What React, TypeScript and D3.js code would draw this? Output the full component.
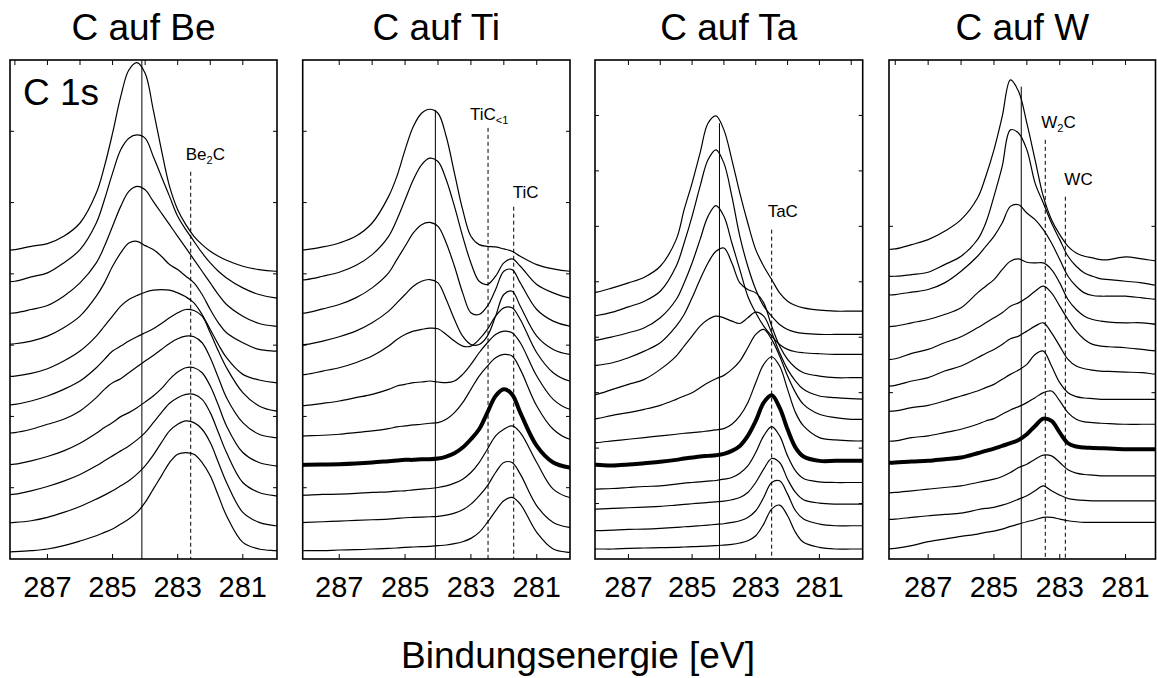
import React from 'react';
import * as d3 from 'd3';

// Binding energy grid (eV) on which every spectrum was read
const energyGrid = [288.5, 288, 287.5, 287, 286.5, 286, 285.5, 285.25, 285, 284.75, 284.5, 284.25, 284, 283.75, 283.5, 283.25, 283, 282.75, 282.5, 282.25, 282, 281.75, 281.5, 281, 280.5, 280, 279.5];

const panelTitles = ['C auf Be', 'C auf Ti', 'C auf Ta', 'C auf W'];
const xTickLabels = [287, 285, 283, 281];
const axisTitle = 'Bindungsenergie [eV]';
const coreLevel = 'C 1s';

// stacked spectra (offset intensity, arb. units), top curve first
const beSpectra = [
  [928, 930, 940, 948, 970, 1010, 1100, 1180, 1280, 1390, 1470, 1492, 1460, 1350, 1230, 1120, 1050, 1005, 970, 945, 925, 910, 898, 880, 870, 865, 864],
  [833, 835, 848, 860, 890, 930, 1010, 1080, 1160, 1230, 1265, 1275, 1265, 1210, 1150, 1090, 1030, 990, 955, 920, 890, 865, 845, 815, 795, 785, 783],
  [738, 740, 750, 762, 790, 830, 890, 940, 1000, 1060, 1105, 1120, 1110, 1075, 1040, 1005, 970, 935, 900, 865, 830, 795, 765, 730, 708, 700, 698],
  [645, 647, 655, 670, 695, 730, 790, 830, 880, 920, 950, 955, 942, 930, 910, 885, 870, 850, 830, 795, 750, 710, 680, 650, 630, 625, 623],
  [548, 550, 558, 572, 595, 625, 670, 700, 730, 760, 780, 792, 802, 808, 810, 808, 800, 788, 770, 735, 690, 645, 605, 555, 538, 530, 528],
  [462, 465, 475, 490, 510, 535, 575, 600, 625, 640, 655, 668, 680, 692, 708, 725, 740, 750, 747, 730, 680, 625, 575, 500, 460, 445, 443],
  [378, 380, 390, 405, 420, 445, 485, 510, 530, 542, 560, 578, 595, 612, 630, 648, 662, 670, 668, 650, 605, 545, 485, 410, 375, 365, 363],
  [283, 285, 295, 308, 325, 348, 378, 395, 410, 428, 440, 455, 472, 490, 512, 540, 562, 575, 575, 560, 520, 462, 400, 320, 290, 280, 278],
  [193, 195, 205, 218, 234, 254, 280, 295, 310, 325, 340, 358, 380, 410, 440, 468, 485, 495, 495, 480, 440, 380, 320, 230, 200, 190, 188],
  [108, 110, 115, 125, 140, 158, 180, 192, 205, 220, 235, 255, 280, 312, 350, 385, 405, 415, 410, 390, 350, 290, 230, 140, 110, 100, 98],
  [20, 22, 25, 30, 40, 54, 70, 80, 90, 105, 120, 140, 170, 210, 250, 290, 315, 320, 315, 290, 250, 190, 130, 50, 30, 25, 23],
];

const tiSpectra = [
  [928, 930, 938, 950, 970, 1010, 1090, 1150, 1230, 1300, 1340, 1352, 1340, 1270, 1160, 1050, 970, 945, 940, 938, 932, 925, 910, 885, 872, 865, 864],
  [838, 840, 850, 862, 882, 915, 970, 1020, 1080, 1140, 1185, 1205, 1195, 1140, 1060, 970, 890, 835, 825, 850, 890, 902, 880, 825, 800, 785, 783],
  [738, 740, 752, 765, 785, 815, 860, 900, 940, 980, 1005, 1012, 1000, 950, 880, 800, 740, 735, 760, 810, 865, 870, 830, 750, 715, 700, 698],
  [643, 645, 655, 668, 685, 710, 745, 770, 795, 820, 835, 840, 830, 780, 720, 670, 645, 645, 670, 730, 795, 805, 760, 670, 630, 615, 613],
  [553, 555, 565, 575, 590, 610, 640, 660, 675, 685, 690, 694, 692, 675, 655, 640, 640, 660, 690, 730, 755, 755, 720, 620, 560, 535, 533],
  [460, 462, 468, 475, 485, 495, 510, 520, 525, 530, 532, 535, 532, 530, 535, 555, 585, 620, 650, 675, 685, 680, 650, 550, 480, 450, 448],
  [368, 370, 372, 375, 380, 385, 392, 397, 400, 403, 405, 408, 410, 420, 440, 470, 510, 550, 580, 605, 615, 610, 570, 460, 390, 360, 358],
  [282, 283, 284, 285, 287, 290, 294, 296, 298, 298, 300, 300, 302, 308, 318, 335, 360, 390, 440, 490, 510, 495, 440, 340, 290, 275, 273],
  [190, 192, 194, 195, 197, 200, 202, 204, 205, 208, 210, 212, 215, 220, 228, 240, 260, 290, 330, 370, 390, 400, 380, 290, 210, 185, 183],
  [108, 110, 112, 114, 116, 118, 120, 122, 124, 125, 126, 127, 128, 132, 138, 148, 165, 190, 220, 260, 290, 290, 255, 160, 110, 95, 93],
  [24, 25, 25, 27, 28, 30, 32, 33, 35, 36, 37, 38, 40, 42, 46, 52, 62, 80, 110, 145, 175, 185, 165, 80, 30, 20, 19],
];

const taSpectra = [
  [798, 802, 815, 830, 847, 880, 960, 1050, 1130, 1220, 1310, 1332, 1290, 1200, 1100, 1010, 930, 880, 840, 800, 775, 762, 755, 748, 745, 745, 745],
  [728, 732, 742, 758, 775, 805, 880, 950, 1030, 1120, 1200, 1230, 1190, 1090, 970, 880, 810, 760, 730, 705, 690, 682, 678, 675, 675, 675, 675],
  [652, 658, 668, 680, 695, 725, 780, 830, 890, 960, 1030, 1062, 1030, 950, 870, 790, 740, 700, 670, 645, 630, 623, 620, 617, 615, 615, 615],
  [578, 582, 590, 605, 625, 650, 700, 735, 785, 840, 890, 925, 935, 890, 830, 810, 800, 770, 700, 640, 600, 575, 560, 550, 545, 545, 545],
  [492, 495, 510, 525, 540, 570, 610, 640, 670, 700, 720, 730, 725, 715, 708, 725, 742, 730, 680, 620, 570, 535, 510, 490, 485, 482, 480],
  [418, 422, 432, 440, 450, 462, 480, 490, 500, 515, 530, 542, 552, 570, 595, 635, 675, 690, 660, 610, 550, 500, 465, 435, 425, 420, 420],
  [348, 350, 355, 360, 365, 370, 375, 378, 380, 382, 385, 388, 392, 405, 430, 470, 530, 585, 608, 580, 510, 440, 400, 365, 358, 355, 355],
  [283, 283, 281, 284, 288, 292, 298, 302, 305, 308, 310, 312, 316, 325, 340, 370, 415, 470, 492, 455, 390, 335, 308, 295, 295, 295, 295],
  [208, 210, 212, 215, 218, 220, 225, 228, 230, 232, 234, 236, 240, 245, 258, 280, 320, 370, 398, 370, 310, 265, 242, 232, 230, 230, 230],
  [148, 150, 152, 154, 156, 158, 162, 164, 166, 168, 170, 172, 174, 178, 185, 200, 230, 270, 302, 290, 240, 200, 178, 168, 165, 165, 165],
  [84, 85, 87, 89, 90, 92, 95, 97, 98, 100, 102, 104, 106, 110, 115, 125, 145, 185, 230, 235, 195, 145, 120, 105, 100, 100, 100],
  [28, 30, 30, 32, 33, 34, 35, 36, 37, 38, 39, 40, 42, 44, 48, 55, 70, 105, 150, 162, 130, 80, 50, 35, 30, 30, 30],
];

const wSpectra = [
  [930, 932, 945, 960, 985, 1020, 1085, 1150, 1230, 1330, 1440, 1405, 1310, 1200, 1090, 1020, 975, 940, 920, 910, 905, 900, 900, 908, 902, 895, 890],
  [850, 850, 855, 862, 885, 910, 960, 1010, 1090, 1180, 1290, 1280, 1230, 1130, 1070, 1010, 960, 910, 880, 860, 850, 842, 840, 835, 830, 822, 820],
  [792, 795, 802, 810, 830, 865, 910, 940, 970, 1010, 1060, 1065, 1040, 1020, 990, 950, 900, 850, 820, 800, 792, 790, 790, 790, 785, 780, 780],
  [698, 700, 710, 720, 735, 755, 800, 820, 840, 870, 895, 902, 892, 890, 890, 870, 830, 780, 750, 730, 720, 715, 712, 710, 710, 705, 705],
  [598, 602, 618, 630, 650, 668, 695, 710, 725, 740, 760, 770, 785, 805, 820, 800, 760, 720, 685, 660, 645, 640, 638, 635, 630, 625, 625],
  [518, 522, 535, 545, 565, 580, 605, 618, 630, 645, 662, 670, 685, 700, 710, 680, 640, 600, 580, 572, 568, 565, 564, 562, 560, 555, 555],
  [443, 445, 455, 462, 475, 490, 505, 515, 525, 540, 555, 568, 585, 615, 625, 580, 530, 500, 488, 484, 482, 480, 480, 480, 480, 480, 480],
  [354, 355, 365, 370, 380, 390, 405, 415, 422, 435, 448, 458, 470, 485, 500, 505, 475, 440, 420, 412, 410, 408, 407, 405, 405, 405, 405],
  [288, 290, 293, 295, 300, 305, 318, 325, 332, 340, 348, 358, 375, 400, 422, 415, 380, 348, 338, 335, 334, 333, 332, 330, 330, 330, 330],
  [198, 200, 205, 210, 215, 220, 230, 235, 240, 248, 260, 275, 285, 300, 312, 310, 290, 268, 258, 254, 252, 250, 250, 250, 250, 250, 250],
  [118, 120, 125, 130, 134, 138, 148, 152, 155, 162, 170, 180, 190, 205, 220, 205, 192, 182, 178, 176, 175, 175, 175, 175, 175, 175, 175],
  [28, 32, 40, 52, 60, 68, 75, 80, 84, 90, 98, 105, 112, 118, 125, 125, 120, 115, 112, 110, 110, 110, 110, 110, 110, 110, 110],
];

const spectraSets = [beSpectra, tiSpectra, taSpectra, wSpectra];
const boldCurveIndex = [-1, 7, 7, 8];
const yTickCounts = [7, 7, 9, 3];

// reference energies (eV): solid = C-C / adsorbed carbon, dashed = carbide
const solidLineEnergy = [284.1, 284.08, 284.14, 284.17];
const solidLineTop = [1500, 1350, 1310, 1420];
const carbideMarkers = [
  [{ name: 'Be', sub: '2', tail: 'C', energy: 282.6, top: 1164, labelY: 1200, dx: -5 }],
  [
    { name: 'TiC', sub: '<1', tail: '', energy: 282.48, top: 1296, labelY: 1320, dx: -18 },
    { name: 'TiC', sub: '', tail: '', energy: 281.7, top: 1059, labelY: 1086, dx: -1 },
  ],
  [{ name: 'TaC', sub: '', tail: '', energy: 282.5, top: 990, labelY: 1029, dx: -4 }],
  [
    { name: 'W', sub: '2', tail: 'C', energy: 283.44, top: 1260, labelY: 1296, dx: -4 },
    { name: 'WC', sub: '', tail: '', energy: 282.83, top: 1089, labelY: 1125, dx: -1 },
  ],
];

// layout
const W = 1157;
const H = 678;
const panelLeft = [10, 302.7, 595, 889];
const panelRight = [277, 570, 862.7, 1155.5];
const energyDomains = [
  [288.15, 279.95],
  [288.11, 279.99],
  [288.05, 279.64],
  [288.19, 280.09],
];
const plotTop = 60;
const plotBottom = 559;
const FONT = "'Liberation Sans', Arial, Helvetica, sans-serif";

export default function App() {
  return (
    <svg
      width={W}
      height={H}
      viewBox={`0 0 ${W} ${H}`}
      style={{ position: 'absolute', left: 0, top: 0, background: '#fff' }}
      fontFamily={FONT}
    >
      <rect x={0} y={0} width={W} height={H} fill="#fff" />
      <defs>
        {spectraSets.map((_, p) => (
          <clipPath id={`clip${p}`} key={p}>
            <rect
              x={panelLeft[p]}
              y={plotTop}
              width={panelRight[p] - panelLeft[p]}
              height={plotBottom - plotTop}
            />
          </clipPath>
        ))}
      </defs>
      {spectraSets.map((spectra, p) => {
        const x = d3.scaleLinear().domain(energyDomains[p]).range([panelLeft[p], panelRight[p]]);
        const y = d3.scaleLinear().domain([0, 1500]).range([plotBottom, plotTop]);
        const line = d3
          .line<number>()
          .x((_, i) => x(energyGrid[i]))
          .y((v) => y(v))
          .curve(d3.curveCatmullRom.alpha(0.5));
        const lo = Math.min(...energyDomains[p]);
        const hi = Math.max(...energyDomains[p]);
        const topTicks = d3.range(Math.ceil(lo + 0.15), Math.floor(hi - 0.15) + 1);
        const yStep = 1500 / yTickCounts[p];
        const yTicks = d3.range(1, yTickCounts[p]).map((k) => k * yStep);
        const cx = (panelLeft[p] + panelRight[p]) / 2;
        return (
          <g key={p}>
            <text x={cx} y={40} fontSize={37} textAnchor="middle" fill="#000">
              {panelTitles[p]}
            </text>
            <g clipPath={`url(#clip${p})`}>
              {spectra.map((s, i) => (
                <path
                  key={i}
                  d={line(s) || ''}
                  fill="none"
                  stroke="#000"
                  strokeWidth={i === boldCurveIndex[p] ? 4 : 1.2}
                  strokeLinejoin="round"
                />
              ))}
              <line
                x1={x(solidLineEnergy[p])}
                x2={x(solidLineEnergy[p])}
                y1={y(solidLineTop[p])}
                y2={plotBottom}
                stroke="#000"
                strokeWidth={1}
              />
              {carbideMarkers[p].map((m, k) => (
                <line
                  key={k}
                  x1={x(m.energy)}
                  x2={x(m.energy)}
                  y1={y(m.top)}
                  y2={plotBottom}
                  stroke="#000"
                  strokeWidth={1}
                  strokeDasharray="4,3"
                />
              ))}
            </g>
            {carbideMarkers[p].map((m, k) => (
              <text key={k} x={x(m.energy) + m.dx} y={y(m.labelY)} fontSize={17} fill="#000">
                {m.name}
                {m.sub ? (
                  <tspan fontSize={11} dy={4}>
                    {m.sub}
                  </tspan>
                ) : null}
                {m.tail ? <tspan dy={-4}>{m.tail}</tspan> : null}
              </text>
            ))}
            {/* axis ticks */}
            {topTicks.map((t) => (
              <line key={`t${t}`} x1={x(t)} x2={x(t)} y1={plotTop} y2={plotTop + 5} stroke="#000" strokeWidth={1} />
            ))}
            {xTickLabels.map((t) => (
              <g key={`b${t}`}>
                <line x1={x(t)} x2={x(t)} y1={plotBottom} y2={plotBottom - 5} stroke="#000" strokeWidth={1} />
                <text x={x(t)} y={597} fontSize={29} textAnchor="middle" fill="#000">
                  {t}
                </text>
              </g>
            ))}
            {yTicks.map((v) => (
              <g key={`y${v}`}>
                <line x1={panelLeft[p]} x2={panelLeft[p] + 4} y1={y(v)} y2={y(v)} stroke="#000" strokeWidth={1} />
                <line x1={panelRight[p]} x2={panelRight[p] - 4} y1={y(v)} y2={y(v)} stroke="#000" strokeWidth={1} />
              </g>
            ))}
            <rect
              x={panelLeft[p]}
              y={plotTop}
              width={panelRight[p] - panelLeft[p]}
              height={plotBottom - plotTop}
              fill="none"
              stroke="#000"
              strokeWidth={1.6}
            />
          </g>
        );
      })}
      <text x={23} y={105} fontSize={37} fill="#000">
        {coreLevel}
      </text>
      <text x={578} y={668} fontSize={37} textAnchor="middle" fill="#000">
        {axisTitle}
      </text>
    </svg>
  );
}
